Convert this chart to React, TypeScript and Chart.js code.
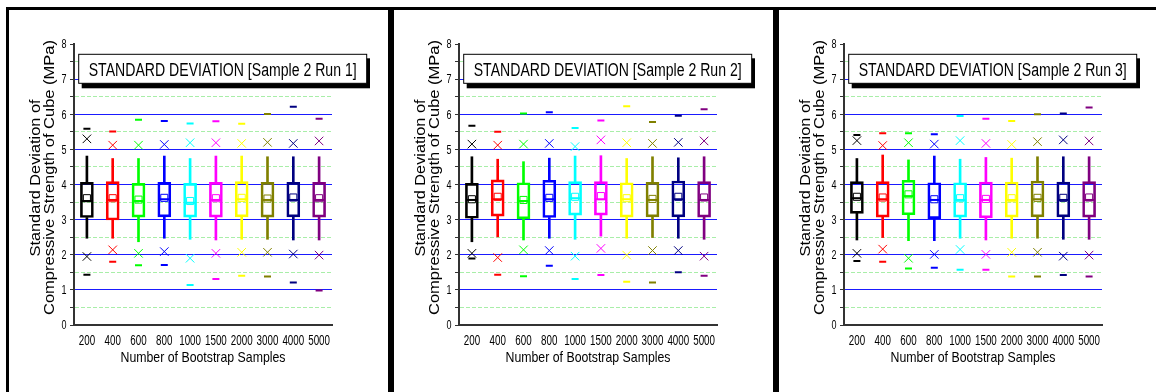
import React, { useEffect, useRef } from 'react';
import { Chart, registerables } from 'chart.js';

Chart.register(...registerables);

const categories = ['200', '400', '600', '800', '1000', '1500', '2000', '3000', '4000', '5000'];
const boxColors = ['#000000', '#ff0000', '#00ff00', '#0000ff', '#00ffff', '#ff00ff', '#ffff00', '#808000', '#000080', '#800080'];
const runTitles = [
  'STANDARD DEVIATION [Sample 2 Run 1]',
  'STANDARD DEVIATION [Sample 2 Run 2]',
  'STANDARD DEVIATION [Sample 2 Run 3]',
];
const yAxisTitleLine1 = 'Standard Deviation of';
const yAxisTitleLine2 = 'Compressive Strength of Cube (MPa)';
const xAxisTitle = 'Number of Bootstrap Samples';

// Run 1
const run1Max = [5.59, 5.51, 5.84, 5.81, 5.74, 5.8, 5.73, 6.01, 6.21, 5.87];
const run1P99 = [5.3, 5.12, 5.12, 5.14, 5.19, 5.19, 5.17, 5.2, 5.17, 5.24];
const run1WhiskerHigh = [4.81, 4.74, 4.74, 4.81, 4.74, 4.81, 4.81, 4.79, 4.79, 4.79];
const run1Q3 = [4.06, 4.08, 4.03, 4.06, 4.03, 4.06, 4.08, 4.06, 4.06, 4.06];
const run1Median = [3.53, 3.56, 3.53, 3.58, 3.48, 3.56, 3.58, 3.56, 3.56, 3.56];
const run1Mean = [3.61, 3.61, 3.57, 3.62, 3.53, 3.61, 3.62, 3.6, 3.63, 3.61];
const run1Q1 = [3.06, 2.99, 3.07, 3.08, 3.07, 3.07, 3.08, 3.07, 3.08, 3.07];
const run1WhiskerLow = [2.47, 2.47, 2.37, 2.47, 2.44, 2.42, 2.44, 2.44, 2.42, 2.42];
const run1P1 = [1.95, 2.14, 2.04, 2.09, 1.9, 2.04, 2.07, 2.07, 2.02, 1.99];
const run1Min = [1.43, 1.8, 1.7, 1.71, 1.14, 1.31, 1.4, 1.38, 1.21, 0.98];

// Run 2
const run2Max = [5.67, 5.5, 6.02, 6.06, 5.61, 5.82, 6.23, 5.78, 5.96, 6.14];
const run2P99 = [5.15, 5.12, 5.15, 5.17, 5.08, 5.27, 5.19, 5.17, 5.2, 5.24];
const run2WhiskerHigh = [4.79, 4.72, 4.65, 4.75, 4.81, 4.82, 4.74, 4.79, 4.76, 4.79];
const run2Q3 = [4.03, 4.13, 4.05, 4.12, 4.08, 4.08, 4.05, 4.06, 4.1, 4.08];
const run2Median = [3.56, 3.58, 3.53, 3.58, 3.61, 3.58, 3.58, 3.56, 3.58, 3.56];
const run2Mean = [3.58, 3.65, 3.56, 3.62, 3.65, 3.67, 3.61, 3.59, 3.65, 3.63];
const run2Q1 = [3.04, 3.1, 3.02, 3.06, 3.13, 3.13, 3.07, 3.08, 3.08, 3.07];
const run2WhiskerLow = [2.37, 2.51, 2.42, 2.47, 2.44, 2.53, 2.47, 2.49, 2.47, 2.44];
const run2P1 = [2.04, 1.92, 2.14, 2.12, 1.96, 2.18, 1.99, 2.12, 2.12, 1.96];
const run2Min = [1.89, 1.43, 1.39, 1.69, 1.31, 1.42, 1.23, 1.21, 1.5, 1.4];

// Run 3
const run3Max = [5.41, 5.46, 5.46, 5.43, 5.95, 5.87, 5.81, 6.0, 6.02, 6.19];
const run3P99 = [5.25, 5.11, 5.19, 5.15, 5.25, 5.17, 5.14, 5.22, 5.27, 5.24];
const run3WhiskerHigh = [4.74, 4.84, 4.7, 4.81, 4.72, 4.77, 4.75, 4.79, 4.79, 4.79];
const run3Q3 = [4.08, 4.08, 4.12, 4.05, 4.05, 4.07, 4.07, 4.1, 4.07, 4.08];
const run3Median = [3.61, 3.58, 3.67, 3.56, 3.56, 3.56, 3.56, 3.58, 3.56, 3.56];
const run3Mean = [3.65, 3.63, 3.72, 3.58, 3.61, 3.59, 3.61, 3.62, 3.62, 3.63];
const run3Q1 = [3.18, 3.07, 3.14, 3.03, 3.07, 3.05, 3.07, 3.08, 3.08, 3.07];
const run3WhiskerLow = [2.42, 2.49, 2.4, 2.4, 2.47, 2.42, 2.47, 2.47, 2.44, 2.44];
const run3P1 = [2.04, 2.16, 1.9, 2.01, 2.15, 2.01, 2.07, 2.07, 1.96, 1.99];
const run3Min = [1.82, 1.8, 1.61, 1.63, 1.57, 1.57, 1.38, 1.38, 1.42, 1.38];

type RunData = {
  max: number[]; p99: number[]; wHi: number[]; q3: number[]; median: number[];
  mean: number[]; q1: number[]; wLo: number[]; p1: number[]; min: number[];
};

const runs: RunData[] = [
  { max: run1Max, p99: run1P99, wHi: run1WhiskerHigh, q3: run1Q3, median: run1Median, mean: run1Mean, q1: run1Q1, wLo: run1WhiskerLow, p1: run1P1, min: run1Min },
  { max: run2Max, p99: run2P99, wHi: run2WhiskerHigh, q3: run2Q3, median: run2Median, mean: run2Mean, q1: run2Q1, wLo: run2WhiskerLow, p1: run2P1, min: run2Min },
  { max: run3Max, p99: run3P99, wHi: run3WhiskerHigh, q3: run3Q3, median: run3Median, mean: run3Mean, q1: run3Q1, wLo: run3WhiskerLow, p1: run3P1, min: run3Min },
];

const CANVAS_W = 379;
const CANVAS_H = 382;
const TEXT_FONT = "'Liberation Sans', Arial, sans-serif";

// draw text forced to a given length along its direction
function fitText(ctx: CanvasRenderingContext2D, text: string, x: number, y: number, len: number, size: number, angle = 0) {
  ctx.save();
  ctx.font = `${size}px ${TEXT_FONT}`;
  const w = ctx.measureText(text).width;
  ctx.translate(x, y);
  ctx.rotate(angle);
  ctx.scale(len / w, 1);
  ctx.textAlign = 'center';
  ctx.textBaseline = 'alphabetic';
  ctx.fillStyle = '#000';
  ctx.fillText(text, 0, 0);
  ctx.restore();
}

// draw text horizontally condensed by a factor
function condensedText(ctx: CanvasRenderingContext2D, text: string, x: number, y: number, size: number, sx: number, align: CanvasTextAlign) {
  ctx.save();
  ctx.font = `${size}px ${TEXT_FONT}`;
  ctx.translate(x, y);
  ctx.scale(sx, 1);
  ctx.textAlign = align;
  ctx.textBaseline = 'alphabetic';
  ctx.fillStyle = '#000';
  ctx.fillText(text, 0, 0);
  ctx.restore();
}

function buildConfig(run: RunData, title: string): any {
  const pts = (data: number[], style: string, radius: number, width: number) => ({
    type: 'line',
    data,
    showLine: false,
    pointStyle: style,
    pointRadius: radius,
    pointHoverRadius: radius,
    pointBorderColor: boxColors,
    pointBackgroundColor: 'rgba(0,0,0,0)',
    pointBorderWidth: width,
    pointHoverBorderWidth: width,
    borderColor: 'rgba(0,0,0,0)',
    backgroundColor: 'rgba(0,0,0,0)',
  });

  const overlay = {
    id: 'panelText',
    afterDraw(chart: any) {
      const ctx: CanvasRenderingContext2D = chart.ctx;
      const ca = chart.chartArea;
      // tick labels (condensed, like the original narrow font)
      const xs = chart.scales.x;
      categories.forEach((lab, i) => {
        condensedText(ctx, lab, xs.getPixelForTick(i), ca.bottom + 20, 14, 0.7, 'center');
      });
      const ys = chart.scales.y;
      ys.ticks.forEach((t: any) => {
        if (Number.isInteger(t.value)) {
          condensedText(ctx, String(t.value), ca.left - 7.5, ys.getPixelForValue(t.value) + 4.3, 12, 0.75, 'right');
        }
      });
      // Y axis title, two lines
      fitText(ctx, yAxisTitleLine1, 31, 168, 157, 15, -Math.PI / 2);
      fitText(ctx, yAxisTitleLine2, 44.5, 167.5, 275, 15, -Math.PI / 2);
      // X axis title
      fitText(ctx, xAxisTitle, (ca.left + ca.right) / 2, 351.5, 165, 15);
      // Title box with drop shadow
      ctx.save();
      ctx.fillStyle = '#000';
      ctx.fillRect(72.7, 48.3, 288.3, 30);
      ctx.fillStyle = '#fff';
      ctx.fillRect(69.7, 44.3, 288, 29);
      ctx.strokeStyle = '#000';
      ctx.lineWidth = 1;
      ctx.strokeRect(69.7, 44.3, 288, 29);
      ctx.restore();
      fitText(ctx, title, 213.7, 66, 268, 18);
    },
  };

  return {
    type: 'bar',
    data: {
      labels: categories,
      datasets: [
        pts(run.median, 'line', 6, 2),
        pts(run.mean, 'rect', 5, 1),
        pts(run.p99, 'crossRot', 6, 1),
        pts(run.p1, 'crossRot', 6, 1),
        pts(run.max, 'line', 3.5, 2),
        pts(run.min, 'line', 3.5, 2),
        {
          type: 'bar',
          data: run.q1.map((v, i) => [v, run.q3[i]]),
          backgroundColor: 'rgba(0,0,0,0)',
          borderColor: boxColors,
          borderWidth: 2,
          borderSkipped: false,
          barThickness: 13,
          grouped: false,
        },
        {
          type: 'bar',
          data: run.q3.map((v, i) => [v, run.wHi[i]]),
          backgroundColor: boxColors,
          borderWidth: 0,
          barThickness: 2,
          grouped: false,
        },
        {
          type: 'bar',
          data: run.wLo.map((v, i) => [v, run.q1[i]]),
          backgroundColor: boxColors,
          borderWidth: 0,
          barThickness: 2,
          grouped: false,
        },
      ],
    },
    options: {
      animation: false,
      responsive: false,
      maintainAspectRatio: false,
      devicePixelRatio: 1,
      events: [],
      layout: { padding: { top: 34, right: 56, bottom: 0, left: 0 } },
      plugins: { legend: { display: false }, tooltip: { enabled: false }, title: { display: false } },
      scales: {
        x: {
          type: 'category',
          offset: true,
          grid: { display: false },
          border: { display: true, color: '#333333', width: 2 },
          ticks: { display: false, autoSkip: false },
          afterFit(scale: any) { scale.height = 67; },
        },
        y: {
          min: 0,
          max: 8,
          ticks: { stepSize: 0.5, display: false },
          grid: {
            drawTicks: true,
            tickLength: 4,
            tickWidth: 1,
            tickColor: '#333333',
            lineWidth: 1,
            color: (c: any) => {
              const v = c.tick ? c.tick.value : null;
              if (v === null || v === 0 || v === 8) return 'rgba(0,0,0,0)';
              return Number.isInteger(v) ? '#1a1aff' : '#a8eea8';
            },
          },
          border: {
            display: true,
            color: '#333333',
            width: 2,
            dash: (c: any) => (c.tick && !Number.isInteger(c.tick.value) ? [4, 2] : []),
          },
          afterFit(scale: any) { scale.width = 65; },
        },
      },
    },
    plugins: [overlay],
  };
}

function Panel({ run, title, left }: { run: RunData; title: string; left: number }) {
  const ref = useRef<HTMLCanvasElement>(null);
  useEffect(() => {
    const chart = new Chart(ref.current as HTMLCanvasElement, buildConfig(run, title));
    return () => chart.destroy();
  }, [run, title]);
  return (
    <canvas
      ref={ref}
      width={CANVAS_W}
      height={CANVAS_H}
      style={{ position: 'absolute', left, top: 10, width: CANVAS_W, height: CANVAS_H, display: 'block' }}
    />
  );
}

export default function App() {
  const bar = (l: number, t: number, w: number, h: number) => (
    <div style={{ position: 'absolute', left: l, top: t, width: w, height: h, background: '#000' }} />
  );
  return (
    <div style={{ position: 'absolute', left: 0, top: 0, width: 1156, height: 392, overflow: 'hidden', background: '#fff' }}>
      <Panel run={runs[0]} title={runTitles[0]} left={9} />
      <Panel run={runs[1]} title={runTitles[1]} left={394} />
      <Panel run={runs[2]} title={runTitles[2]} left={779} />
      {bar(6, 7, 1150, 3)}
      {bar(6, 7, 3, 385)}
      {bar(388, 7, 6, 385)}
      {bar(773, 7, 6, 385)}
    </div>
  );
}
